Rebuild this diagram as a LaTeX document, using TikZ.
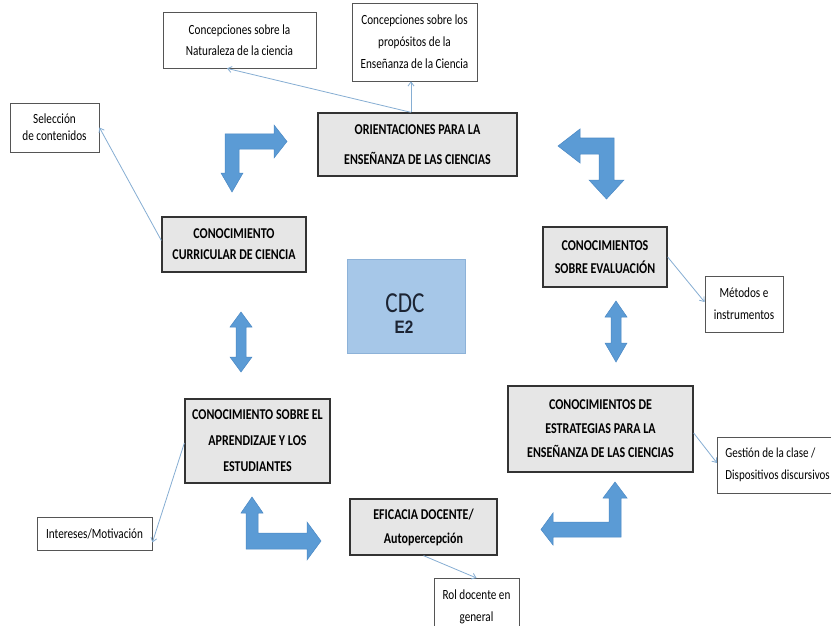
\documentclass[tikz,border=0pt]{standalone}
\usepackage{fontspec}
\setmainfont{Carlito}[FakeStretch=0.8]
\newfontfamily\arialb{Liberation Sans}[FakeStretch=0.85]
\usetikzlibrary{arrows.meta}
\definecolor{boxgray}{HTML}{E6E6E6}
\definecolor{boxline}{HTML}{333333}
\definecolor{thinline}{HTML}{555555}
\definecolor{conn}{HTML}{86AED3}
\definecolor{blk}{HTML}{5B9BD5}
\definecolor{blkline}{HTML}{4A88C4}
\definecolor{cdcfill}{HTML}{A6C7E8}
\definecolor{cdcline}{HTML}{8DB2D8}
\definecolor{cdctext}{HTML}{1C2433}
\tikzset{
  smallbox/.style={draw=thinline, fill=white, line width=0.8pt, align=center, inner sep=0pt},
  mainbox/.style={draw=boxline, fill=boxgray, line width=1.3pt, align=center, inner sep=0pt},
  link/.style={draw=conn, line width=0.8pt, -{Straight Barb[length=4pt,width=6pt]}},
  blockarrow/.style={fill=blk, draw=blkline, line width=0.5pt, line join=miter}
}
\begin{document}
\begin{tikzpicture}[x=1pt,y=-1pt]
\useasboundingbox (0,0) rectangle (831,626);
\clip (0,0) rectangle (831,626);
\fill[white] (0,0) rectangle (831,626);

% small boxes
\node[smallbox, minimum width=153pt, minimum height=56pt, font=\fontsize{14}{21}\selectfont] (nat) at (239.5,40) {Concepciones sobre la\\Naturaleza de la ciencia};
\node[smallbox, minimum width=125pt, minimum height=78pt, font=\fontsize{14}{22}\selectfont] (prop) at (414.5,42) {Concepciones sobre los\\propósitos de la\\Enseñanza de la Ciencia};
\node[smallbox, minimum width=89pt, minimum height=49pt, font=\fontsize{14}{17}\selectfont] (sel) at (54.5,127.5) {Selección\\de contenidos};
\node[smallbox, minimum width=78pt, minimum height=56pt, font=\fontsize{14}{22}\selectfont] (met) at (744,304) {Métodos e\\instrumentos};
\node[smallbox, minimum width=115pt, minimum height=33pt, font=\fontsize{14}{22}\selectfont] (int) at (94.5,533.5) {Intereses/Motivación};
\node[smallbox, anchor=west, minimum height=56pt, inner xsep=8pt, align=left, font=\fontsize{13.8}{22}\selectfont] (gest) at (717,465) {Gestión de la clase /\\Dispositivos discursivos};
\node[smallbox, anchor=north, minimum width=85pt, minimum height=56pt, font=\fontsize{14}{22}\selectfont] (rol) at (476.5,578) {Rol docente en\\general};

% main boxes
\node[mainbox, minimum width=199pt, minimum height=63pt, font=\bfseries\fontsize{15}{30}\selectfont] (orient) at (417.5,144.5) {ORIENTACIONES PARA LA\\ENSEÑANZA DE LAS CIENCIAS};
\node[mainbox, minimum width=144pt, minimum height=55pt, font=\bfseries\fontsize{15}{21}\selectfont] (curr) at (234,244.5) {CONOCIMIENTO\\CURRICULAR DE CIENCIA};
\node[mainbox, minimum width=124pt, minimum height=60pt, font=\bfseries\fontsize{15}{23}\selectfont] (eval) at (605,257) {CONOCIMIENTOS\\SOBRE EVALUACIÓN};
\node[mainbox, minimum width=145pt, minimum height=84pt, font=\bfseries\fontsize{15}{26}\selectfont] (apr) at (257.5,441) {CONOCIMIENTO SOBRE EL\\APRENDIZAJE Y LOS\\ESTUDIANTES};
\node[mainbox, minimum width=185pt, minimum height=86pt, font=\bfseries\fontsize{15}{24}\selectfont] (estr) at (600.5,429) {CONOCIMIENTOS DE\\ESTRATEGIAS PARA LA\\ENSEÑANZA DE LAS CIENCIAS};
\node[mainbox, minimum width=147pt, minimum height=56pt, font=\bfseries\fontsize{15}{24}\selectfont] (efic) at (423.5,527) {EFICACIA DOCENTE/\\Autopercepción};

% centre
\node[draw=cdcline, fill=cdcfill, line width=0.8pt, minimum width=118pt, minimum height=94pt, align=center, inner sep=0pt] (cdc) at (406,306) {};
\node[text=cdctext, font=\fontsize{29}{29}\selectfont, inner sep=0pt] (cdct) at (405,303) {CDC};
\node[text=cdctext, font=\arialb\bfseries\fontsize{18}{18}\selectfont, inner sep=0pt] (e2) at (404,327) {E2};

% thin connectors
\draw[link] ([xshift=-6.5pt]orient.north) -- ([xshift=-12.5pt]nat.south);
\draw[link] ([xshift=-6.5pt]orient.north) -- ([xshift=-3.5pt]prop.south);
\draw[link] ([yshift=4pt]curr.west) -- (sel.east);
\draw[link] (eval.east) -- ([yshift=2pt]met.west);
\draw[link] ([yshift=-4pt]estr.east) -- ([yshift=2pt]gest.west);
\draw[link] (efic.south) -- (rol.north);
\draw[link] ([yshift=-2pt]apr.west) -- ([yshift=8pt]int.south east);

% block arrows
\draw[blockarrow] (225,134) -- (274,134) -- (274,125) -- (287,141.5) -- (274,158) -- (274,149) -- (239,149) -- (239,173) -- (243,173) -- (232,192) -- (221,173) -- (225,173) -- cycle;
\draw[blockarrow] (558,146) -- (580,129) -- (580,138) -- (614,138) -- (614,180) -- (624,180) -- (606.5,199) -- (589,180) -- (599,180) -- (599,154) -- (580,154) -- (580,163) -- cycle;
\draw[blockarrow] (616,301) -- (627,317) -- (621,317) -- (621,343) -- (627,343) -- (616,362) -- (605,343) -- (611,343) -- (611,317) -- (605,317) -- cycle;
\draw[blockarrow] (241,312) -- (252,327) -- (246,327) -- (246,357) -- (252,357) -- (241,372) -- (230,357) -- (236,357) -- (236,327) -- (230,327) -- cycle;
\draw[blockarrow] (252,497) -- (263,513) -- (258,513) -- (258,533) -- (307,533) -- (307,522) -- (321,541) -- (307,560) -- (307,549) -- (246,549) -- (246,513) -- (241,513) -- cycle;
\draw[blockarrow] (615,482) -- (627,498) -- (621,498) -- (621,537) -- (553,537) -- (553,545) -- (541,529.5) -- (553,513) -- (553,522) -- (609,522) -- (609,498) -- (603,498) -- cycle;
\end{tikzpicture}
\end{document}
